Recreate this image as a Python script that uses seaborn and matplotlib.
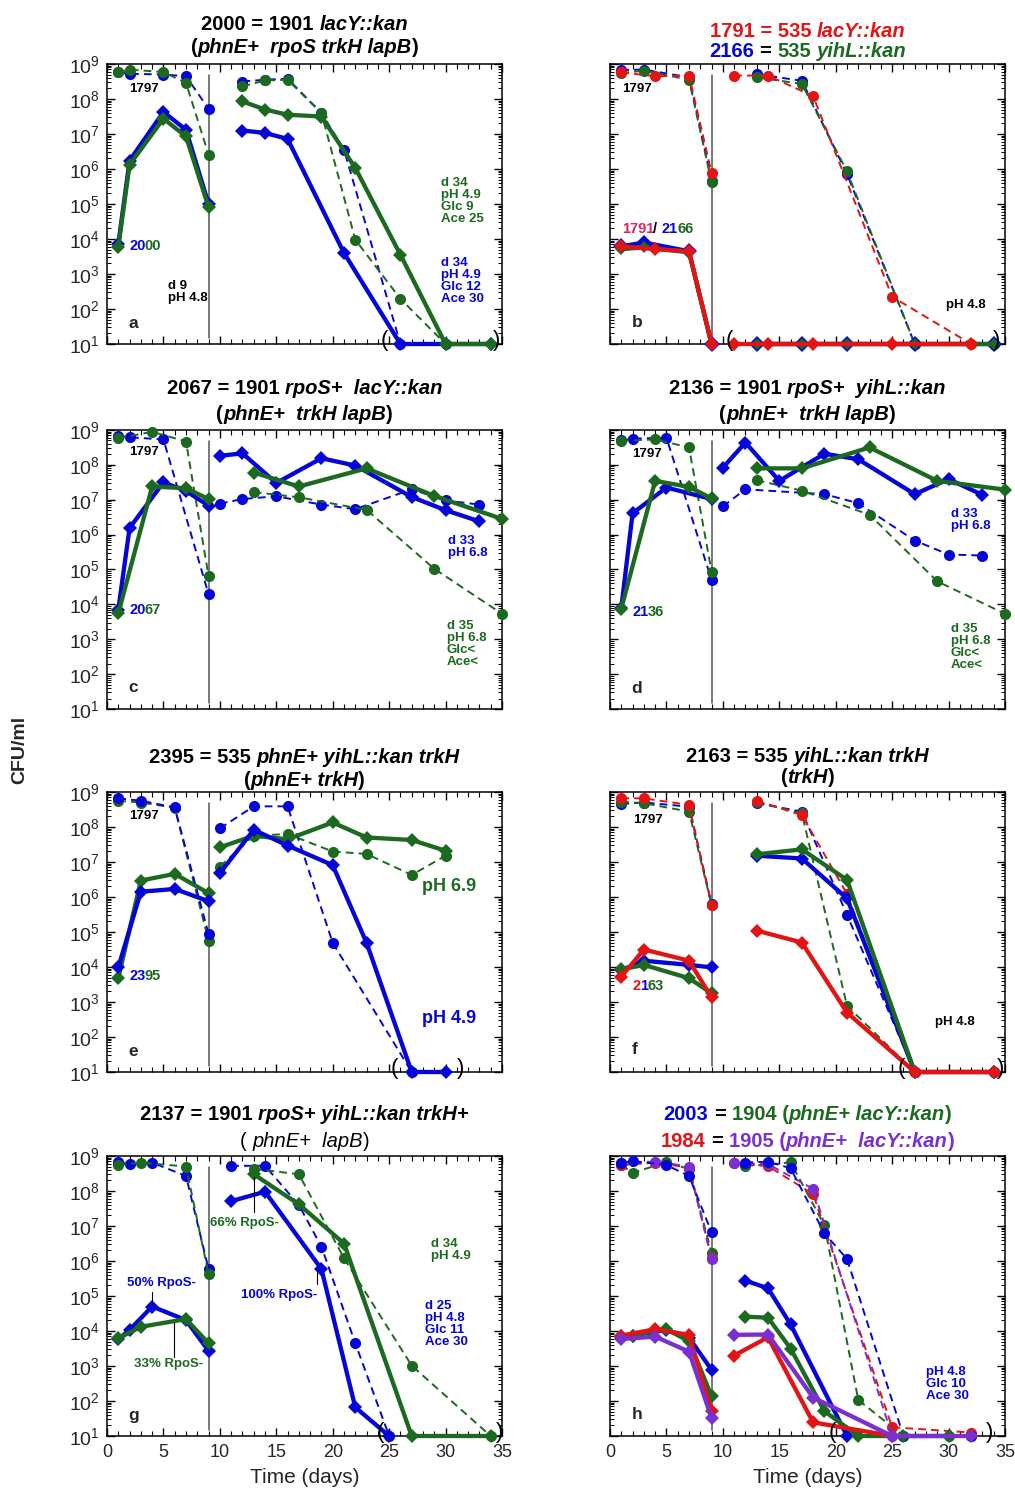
import numpy as np
import pandas as pd
import matplotlib
matplotlib.use("Agg")
import matplotlib.pyplot as plt
import seaborn as sns
from matplotlib.ticker import LogLocator, LogFormatterMathtext, MultipleLocator, NullFormatter
from matplotlib.transforms import IdentityTransform

# ---------------- data (log10 CFU/ml) ----------------
# panel a
a_d_blue_dash = [1, 2, 5, 7, 9, 12, 14, 16, 19, 21, 26]
a_v_blue_dash = [8.76, 8.72, 8.70, 8.65, 7.72, 8.50, 8.55, 8.58, 7.60, 6.55, 1.0]
a_d_green_dash = [1, 2, 5, 7, 9, 12, 14, 16, 19, 22, 26, 30]
a_v_green_dash = [8.76, 8.84, 8.77, 8.46, 6.41, 8.36, 8.53, 8.55, 7.60, 3.98, 2.29, 1.0]
a_d_blue_sol = [1, 2, 5, 7, 9, 12, 14, 16, 21, 26, 30, 34]
a_v_blue_sol = [3.85, 6.24, 7.63, 7.12, 5.00, 7.10, 7.03, 6.86, 3.60, 1.0, 1.0, 1.0]
a_d_green_sol = [1, 2, 5, 7, 9, 12, 14, 16, 19, 22, 26, 30, 34]
a_v_green_sol = [3.77, 6.12, 7.44, 6.93, 4.91, 7.93, 7.70, 7.55, 7.50, 6.03, 3.55, 1.0, 1.0]

# panel b
b_d_bg = [1, 3, 7, 9, 13, 17, 21, 27, 34]
b_v_blue_dash = [8.83, 8.84, 8.62, 5.67, 8.71, 8.52, 5.86, 1.0, 1.0]
b_v_green_dash = [8.74, 8.81, 8.55, 5.62, 8.62, 8.43, 5.93, 1.0, 1.0]
b_d_red = [1, 4, 7, 9, 11, 14, 18, 25, 32]
b_v_red_dash = [8.76, 8.65, 8.67, 5.89, 8.67, 8.67, 8.08, 2.35, 1.0]
b_v_blue_sol = [3.79, 3.90, 3.65, 1.0, 1.0, 1.0, 1.0, 1.0, 1.0]
b_v_green_sol = [3.71, 3.76, 3.62, 1.0, 1.0, 1.0, 1.0, 1.0, 1.0]
b_v_red_sol = [3.79, 3.71, 3.65, 1.0, 1.0, 1.0, 1.0, 1.0, 1.0]

# panel c
c_d_blue_dash = [1, 2, 5, 9, 10, 12, 15, 19, 22, 27, 30, 33]
c_v_blue_dash = [8.84, 8.79, 8.73, 4.29, 6.89, 7.02, 7.10, 6.86, 6.73, 7.30, 6.98, 6.86]
c_d_green_dash = [1, 4, 7, 9, 13, 17, 23, 29, 35]
c_v_green_dash = [8.76, 8.95, 8.67, 4.81, 7.22, 7.07, 6.71, 5.02, 3.73]
c_d_blue_sol = [1, 2, 5, 7, 9, 10, 12, 15, 19, 22, 27, 30, 33]
c_v_blue_sol = [3.84, 6.19, 7.50, 7.25, 6.83, 8.26, 8.33, 7.48, 8.19, 7.98, 7.08, 6.70, 6.38]
c_d_green_sol = [1, 4, 7, 9, 13, 17, 23, 29, 35]
c_v_green_sol = [3.74, 7.38, 7.33, 7.02, 7.78, 7.38, 7.90, 7.11, 6.45]

# panel d
d_d_blue_dash = [1, 2, 5, 9, 10, 12, 19, 22, 27, 30, 33]
d_v_blue_dash = [8.70, 8.75, 8.78, 4.70, 6.81, 7.30, 7.16, 6.90, 5.83, 5.43, 5.40]
d_d_green_dash = [1, 4, 7, 9, 13, 17, 23, 29, 35]
d_v_green_dash = [8.69, 8.73, 8.50, 4.94, 7.56, 7.26, 6.57, 4.66, 3.73]
d_d_blue_sol = [1, 2, 5, 9, 10, 12, 15, 19, 22, 27, 30, 33]
d_v_blue_sol = [3.90, 6.61, 7.35, 7.02, 7.92, 8.64, 7.54, 8.32, 8.16, 7.16, 7.59, 7.14]
d_d_green_sol = [1, 4, 7, 9, 13, 17, 23, 29, 35]
d_v_green_sol = [3.88, 7.54, 7.37, 7.04, 7.90, 7.90, 8.50, 7.54, 7.29]

# panel e
e_d_blue_dash = [1, 3, 6, 9, 10, 13, 16, 20, 27]
e_v_blue_dash = [8.82, 8.75, 8.56, 4.94, 7.96, 8.59, 8.59, 4.69, 1.0]
e_d_green_dash = [1, 3, 6, 9, 10, 13, 16, 20, 23, 27, 30]
e_v_green_dash = [8.75, 8.70, 8.55, 4.75, 6.87, 7.75, 7.80, 7.30, 7.23, 6.63, 7.18]
e_d_sol = [1, 3, 6, 9, 10, 13, 16, 20, 23, 27, 30]
e_v_blue_sol = [3.99, 6.15, 6.23, 5.88, 6.68, 7.92, 7.47, 6.91, 4.69, 1.0, 1.0]
e_v_green_sol = [3.68, 6.47, 6.66, 6.11, 7.42, 7.75, 7.65, 8.13, 7.70, 7.63, 7.32]

# panel f
f_d = [1, 3, 7, 9, 13, 17, 21, 27, 34]
f_v_red_dash = [8.82, 8.82, 8.63, 5.77, 8.75, 8.34, 6.09, 1.0, 1.0]
f_v_blue_dash = [8.66, 8.70, 8.58, 5.80, 8.68, 8.44, 5.49, 1.0, 1.0]
f_v_green_dash = [8.72, 8.68, 8.44, 5.77, 8.72, 8.39, 2.89, 1.0, 1.0]
f_v_blue_sol = [3.91, 4.18, 4.06, 3.99, 7.18, 7.10, 5.96, 1.0, 1.0]
f_v_green_sol = [3.93, 4.06, 3.68, 3.25, 7.22, 7.36, 6.49, 1.0, 1.0]
f_v_red_sol = [3.72, 4.50, 4.18, 3.13, 5.04, 4.70, 2.70, 1.0, 1.0]

# panel g
g_d_blue_dash = [1, 2, 4, 7, 9, 11, 14, 17, 19, 22, 25]
g_v_blue_dash = [8.82, 8.77, 8.81, 8.43, 5.77, 8.72, 8.72, 7.60, 6.41, 3.65, 1.0]
g_d_green_dash = [1, 3, 7, 9, 13, 17, 21, 27, 34]
g_v_green_dash = [8.74, 8.81, 8.70, 5.62, 8.63, 8.48, 6.08, 3.01, 1.0]
g_d_blue_sol = [1, 2, 4, 7, 9, 11, 14, 19, 22, 25]
g_v_blue_sol = [3.76, 4.03, 4.70, 4.31, 3.43, 7.71, 7.98, 5.77, 1.82, 1.0]
g_d_green_sol = [1, 3, 7, 9, 13, 17, 21, 27, 34]
g_v_green_sol = [3.79, 4.12, 4.34, 3.65, 8.48, 7.62, 6.50, 1.0, 1.0]

# panel h
h_d_blue_dash = [1, 2, 5, 7, 9, 12, 14, 16, 19, 21, 26, 32]
h_v_blue_dash = [8.79, 8.86, 8.74, 8.43, 6.82, 8.81, 8.84, 8.65, 6.79, 6.06, 1.0, 1.0]
h_d_green_dash = [1, 2, 5, 7, 9, 12, 14, 16, 19, 22, 26, 30]
h_v_green_dash = [8.74, 8.52, 8.82, 8.63, 6.24, 8.72, 8.75, 8.82, 7.02, 2.03, 1.0, 1.0]
h_d_rp = [1, 4, 7, 9, 11, 14, 18, 25, 32]
h_v_red_dash = [8.74, 8.81, 8.67, 6.10, 8.79, 8.71, 7.91, 1.25, 1.10]
h_v_purple_dash = [8.81, 8.84, 8.70, 6.05, 8.79, 8.77, 8.06, 1.0, 1.0]
h_d_blue_sol = [1, 2, 5, 7, 9, 12, 14, 16, 21]
h_v_blue_sol = [3.84, 3.87, 4.03, 3.81, 2.89, 5.44, 5.22, 4.19, 1.0]
h_d_green_sol = [1, 2, 5, 7, 9, 12, 14, 16, 19, 22, 26, 30]
h_v_green_sol = [3.87, 3.87, 4.05, 3.71, 2.14, 4.41, 4.38, 3.50, 1.71, 1.0, 1.0, 1.0]
h_d_red_sol = [1, 4, 7, 9, 11, 14, 18, 25]
h_v_red_sol = [3.87, 4.05, 3.89, 1.71, 3.30, 3.82, 1.39, 1.0]
h_v_purple_sol = [3.77, 3.84, 3.41, 1.52, 3.89, 3.90, 2.10, 1.0, 1.0]

x_ticks = [0, 5, 10, 15, 20, 25, 30, 35]

# ---------------- style ----------------
BLUE = "#0505d8"
GREEN = "#1c6a1f"
RED = "#e31414"
PURPLE = "#7a2fd0"
PINK = "#e0245e"
BLACK = "black"

sns.set_theme(style="ticks")
plt.rcParams['font.family'] = ['Liberation Sans', 'DejaVu Sans']
plt.rcParams['mathtext.fontset'] = 'custom'
plt.rcParams['mathtext.rm'] = 'Liberation Sans'
plt.rcParams['mathtext.it'] = 'Liberation Sans:italic'
plt.rcParams['mathtext.bf'] = 'Liberation Sans:bold'

W, H = 1015, 1489
fig = plt.figure(figsize=(W / 100, H / 100), dpi=100)


def px_axes(x0, y0, x1, y1):
    return fig.add_axes([x0 / W, 1 - y1 / H, (x1 - x0) / W, (y1 - y0) / H])


col_x = [(107, 502), (610, 1005)]
row_y = [(64, 344), (430, 709), (792, 1072), (1156, 1436)]
axes = {}
letters = ['a', 'b', 'c', 'd', 'e', 'f', 'g', 'h']
for i, L in enumerate(letters):
    r, c = divmod(i, 2)
    axes[L] = px_axes(col_x[c][0], row_y[r][0], col_x[c][1], row_y[r][1])


def series(ax, days, logs, color, dashed, ms=None, z=3):
    df = pd.DataFrame({'day': days, 'cfu': 10.0 ** np.asarray(logs, dtype=float)})
    df['seg'] = (df['day'] > 9.5).astype(int)
    if dashed:
        sns.lineplot(data=df, x='day', y='cfu', units='seg', estimator=None, sort=False,
                     ax=ax, color=color, linewidth=1.4, linestyle=(0, (4, 2.6)),
                     marker='o', markersize=ms or 8.0, markeredgecolor=color,
                     markeredgewidth=0, clip_on=False, zorder=z, legend=False)
    else:
        sns.lineplot(data=df, x='day', y='cfu', units='seg', estimator=None, sort=False,
                     ax=ax, color=color, linewidth=3.1, marker='D',
                     markersize=ms or 7.3, markeredgecolor=color, markeredgewidth=0,
                     clip_on=False, zorder=z + 2, legend=False)


# panel a
ax = axes['a']
series(ax, a_d_blue_dash, a_v_blue_dash, BLUE, True)
series(ax, a_d_green_dash, a_v_green_dash, GREEN, True)
series(ax, a_d_blue_sol, a_v_blue_sol, BLUE, False)
series(ax, a_d_green_sol, a_v_green_sol, GREEN, False)
# panel b
ax = axes['b']
series(ax, b_d_bg, b_v_blue_dash, BLUE, True)
series(ax, b_d_bg, b_v_green_dash, GREEN, True)
series(ax, b_d_red, b_v_red_dash, RED, True)
series(ax, b_d_bg, b_v_blue_sol, BLUE, False, ms=8.4)
series(ax, b_d_bg, b_v_green_sol, GREEN, False, ms=6.0)
series(ax, b_d_red, b_v_red_sol, RED, False)
# panel c
ax = axes['c']
series(ax, c_d_blue_dash, c_v_blue_dash, BLUE, True)
series(ax, c_d_green_dash, c_v_green_dash, GREEN, True)
series(ax, c_d_blue_sol, c_v_blue_sol, BLUE, False)
series(ax, c_d_green_sol, c_v_green_sol, GREEN, False)
# panel d
ax = axes['d']
series(ax, d_d_blue_dash, d_v_blue_dash, BLUE, True)
series(ax, d_d_green_dash, d_v_green_dash, GREEN, True)
series(ax, d_d_blue_sol, d_v_blue_sol, BLUE, False)
series(ax, d_d_green_sol, d_v_green_sol, GREEN, False)
# panel e
ax = axes['e']
series(ax, e_d_green_dash, e_v_green_dash, GREEN, True)
series(ax, e_d_blue_dash, e_v_blue_dash, BLUE, True)
series(ax, e_d_sol, e_v_green_sol, GREEN, False)
series(ax, e_d_sol, e_v_blue_sol, BLUE, False)
# panel f
ax = axes['f']
series(ax, f_d, f_v_blue_dash, BLUE, True)
series(ax, f_d, f_v_green_dash, GREEN, True)
series(ax, f_d, f_v_red_dash, RED, True)
series(ax, f_d, f_v_blue_sol, BLUE, False)
series(ax, f_d, f_v_green_sol, GREEN, False)
series(ax, f_d, f_v_red_sol, RED, False)
# panel g
ax = axes['g']
series(ax, g_d_blue_dash, g_v_blue_dash, BLUE, True)
series(ax, g_d_green_dash, g_v_green_dash, GREEN, True)
series(ax, g_d_blue_sol, g_v_blue_sol, BLUE, False)
series(ax, g_d_green_sol, g_v_green_sol, GREEN, False)
# panel h
ax = axes['h']
series(ax, h_d_green_dash, h_v_green_dash, GREEN, True)
series(ax, h_d_rp, h_v_red_dash, RED, True)
series(ax, h_d_rp, h_v_purple_dash, PURPLE, True)
series(ax, h_d_blue_dash, h_v_blue_dash, BLUE, True)
series(ax, h_d_blue_sol, h_v_blue_sol, BLUE, False)
series(ax, h_d_green_sol, h_v_green_sol, GREEN, False)
series(ax, h_d_red_sol, h_v_red_sol, RED, False)
series(ax, h_d_rp, h_v_purple_sol, PURPLE, False)

# ---------------- axes formatting ----------------
for i, L in enumerate(letters):
    ax = axes[L]
    r, c = divmod(i, 2)
    ax.set_yscale('log')
    ax.set_ylim(10, 1e9)
    ax.set_xlim(0, 35)
    ax.set_xlabel('')
    ax.set_ylabel('')
    ax.yaxis.set_major_locator(LogLocator(base=10, numticks=20))
    ax.yaxis.set_minor_locator(LogLocator(base=10, subs=np.arange(2, 10), numticks=100))
    ax.yaxis.set_major_formatter(LogFormatterMathtext())
    ax.yaxis.set_minor_formatter(NullFormatter())
    ax.set_xticks(x_ticks)
    ax.xaxis.set_minor_locator(MultipleLocator(1))
    ax.tick_params(which='both', direction='in', top=True, right=True, color='black')
    ax.tick_params(axis='y', which='major', length=6, width=1.0, labelsize=14, pad=5)
    ax.tick_params(axis='y', which='minor', length=3, width=0.7)
    ax.tick_params(axis='x', which='major', length=6, width=1.0, labelsize=13, pad=6)
    ax.tick_params(axis='x', which='minor', length=3.5, width=0.8)
    ax.tick_params(labelleft=(c == 0), labelbottom=(r == 3))
    for sp in ax.spines.values():
        sp.set_linewidth(1.1)
        sp.set_color('black')
    ax.axvline(9, ymin=0.02, ymax=0.96, color='#555555', lw=1.1, zorder=1)
    if r == 3:
        ax.set_xlabel('Time (days)', fontsize=15, labelpad=5)
    ax.set_facecolor('white')


# ---------------- text helpers ----------------
def measure(s, **kw):
    t = fig.text(0, 0, s, transform=IdentityTransform(), **kw)
    w = t.get_window_extent(fig.canvas.get_renderer()).width
    t.remove()
    return w


def advance(s, **kw):
    # width including side bearings and spaces
    return measure("H" + s + "H", **kw) - measure("HH", **kw)


def rich(x, y, segs, size, ha='center'):
    """segs: (text, color, weight, style); x,y display px (y = baseline)."""
    items = []
    total = 0.0
    for s, col, wgt, sty in segs:
        kw = dict(fontsize=size, fontweight=wgt, fontstyle=sty, color=col)
        lead = s[:len(s) - len(s.lstrip(' '))]
        core = s.strip(' ')
        if lead:
            total += advance(lead, **kw)
        if core:
            items.append((total, core, kw))
        total += advance(s.lstrip(' '), **kw)
    x0 = x - total / 2 if ha == 'center' else x
    for off, core, kw in items:
        fig.text(x0 + off, y, core, transform=IdentityTransform(), ha='left',
                 va='baseline', **kw)


def title(L, base1, base2, segs1, segs2, size=14.5):
    r, c = divmod(letters.index(L), 2)
    xc = (col_x[c][0] + col_x[c][1]) / 2
    rich(xc, H - base1, segs1, size)
    rich(xc, H - base2, segs2, size)


# advance widths (em) of the bold sans glyphs used in the strain labels
EM_ADV = {' ': 0.278, '/': 0.278}


def data_rich(ax, day, logv, segs, size):
    """Multicolour digit label: pieces placed on the font's fixed digit advance."""
    xd, yd = ax.transData.transform((day, 10 ** logv))
    px = size * 100 / 72
    yb = yd - 0.36 * px
    pen = 0.0
    for k, (s, col) in enumerate(segs):
        lead = len(s) - len(s.lstrip(' '))
        pen += lead * EM_ADV[' '] * px
        core = s.strip(' ')
        if core:
            fig.text(xd + pen - (1.0 if k else 0.0), yb, core, transform=IdentityTransform(),
                     ha='left', va='baseline', color=col, fontsize=size, fontweight='bold')
        for ch in s.lstrip(' '):
            pen += EM_ADV.get(ch, 0.556) * px


B, I, N = 'bold', 'italic', 'normal'
title('a', 30, 53,
      [("2000 = 1901 ", BLACK, B, N), ("lacY::kan", BLACK, B, I)],
      [("(", BLACK, B, N), ("phnE+  rpoS trkH lapB", BLACK, B, I), (")", BLACK, B, N)])
title('b', 37, 57,
      [("1791 = 535 ", RED, B, N), ("lacY::kan", RED, B, I)],
      [("2166", BLUE, B, N), (" = ", BLACK, B, N), ("535 ", GREEN, B, N), ("yihL::kan", GREEN, B, I)])
title('c', 394, 420,
      [("2067 = 1901 ", BLACK, B, N), ("rpoS+  lacY::kan", BLACK, B, I)],
      [("(", BLACK, B, N), ("phnE+  trkH lapB", BLACK, B, I), (")", BLACK, B, N)])
title('d', 394, 420,
      [("2136 = 1901 ", BLACK, B, N), ("rpoS+  yihL::kan", BLACK, B, I)],
      [("(", BLACK, B, N), ("phnE+  trkH lapB", BLACK, B, I), (")", BLACK, B, N)])
title('e', 763, 786,
      [("2395 = 535 ", BLACK, B, N), ("phnE+ yihL::kan trkH", BLACK, B, I)],
      [("(", BLACK, B, N), ("phnE+ trkH", BLACK, B, I), (")", BLACK, B, N)])
title('f', 762, 783,
      [("2163 = 535 ", BLACK, B, N), ("yihL::kan trkH", BLACK, B, I)],
      [("(", BLACK, B, N), ("trkH", BLACK, B, I), (")", BLACK, B, N)])
title('g', 1120, 1147,
      [("2137 = 1901 ", BLACK, B, N), ("rpoS+ yihL::kan trkH+", BLACK, B, I)],
      [("( ", BLACK, N, N), ("phnE+  lapB", BLACK, N, I), (")", BLACK, N, N)])
title('h', 1120, 1147,
      [("2003", BLUE, B, N), (" = ", BLACK, B, N), ("1904 (", GREEN, B, N),
       ("phnE+ lacY::kan", GREEN, B, I), (")", GREEN, B, N)],
      [("1984", RED, B, N), (" = ", BLACK, B, N), ("1905 (", PURPLE, B, N),
       ("phnE+  lacY::kan", PURPLE, B, I), (")", PURPLE, B, N)])

ANN = dict(fontsize=9.5, fontweight='bold', linespacing=1.0)


def note(ax, x, y, s, color=BLACK, va='top', **kw):
    opts = dict(ANN)
    opts.update(kw)
    ax.text(x, 10 ** y, s, color=color, ha='left', va=va, zorder=10, **opts)


def parens(ax, x0, x1):
    for x, s in ((x0, '('), (x1, ')')):
        ax.text(x, 10 ** 1.1, s, fontsize=16, ha='center', va='center', color=BLACK,
                zorder=10)


def letter(ax, x, y, s):
    ax.text(x, 10 ** y, s, fontsize=12.5, fontweight='bold', ha='left', va='center',
            zorder=10)


# panel a
ax = axes['a']
note(ax, 2.0, 8.29, "1797", va='center')
data_rich(ax, 2.0, 3.84, [("20", BLUE), ("00", GREEN)], 10.5)
note(ax, 29.6, 5.76, "d 34\npH 4.9\nGlc 9\nAce 25", GREEN)
note(ax, 29.6, 3.48, "d 34\npH 4.9\nGlc 12\nAce 30", BLUE)
note(ax, 5.4, 2.84, "d 9\npH 4.8")
letter(ax, 1.9, 1.6, 'a')
parens(ax, 24.6, 34.5)
# panel b
ax = axes['b']
note(ax, 1.1, 8.29, "1797", va='center')
data_rich(ax, 1.05, 4.33, [("1791", PINK), ("/ ", BLACK), ("21", BLUE), ("66", GREEN)], 10.5)
note(ax, 29.8, 2.11, "pH 4.8", va='center')
letter(ax, 1.9, 1.62, 'b')
parens(ax, 10.6, 34.3)
# panel c
ax = axes['c']
note(ax, 2.0, 8.38, "1797", va='center')
data_rich(ax, 2.0, 3.88, [("20", BLUE), ("67", GREEN)], 10.5)
note(ax, 30.2, 5.98, "d 33\npH 6.8", BLUE)
note(ax, 30.1, 3.55, "d 35\npH 6.8\nGlc<\nAce<", GREEN)
letter(ax, 1.9, 1.62, 'c')
# panel d
ax = axes['d']
note(ax, 2.0, 8.32, "1797", va='center')
data_rich(ax, 2.0, 3.83, [("21", BLUE), ("36", GREEN)], 10.5)
note(ax, 30.2, 6.76, "d 33\npH 6.8", BLUE)
note(ax, 30.2, 3.47, "d 35\npH 6.8\nGlc<\nAce<", GREEN)
letter(ax, 1.9, 1.6, 'd')
# panel e
ax = axes['e']
note(ax, 2.0, 8.3, "1797", va='center')
data_rich(ax, 2.0, 3.77, [("23", BLUE), ("95", GREEN)], 10.5)
note(ax, 27.9, 6.3, "pH 6.9", GREEN, va='center', fontsize=13)
note(ax, 27.9, 2.53, "pH 4.9", BLUE, va='center', fontsize=13)
letter(ax, 1.9, 1.6, 'e')
parens(ax, 25.5, 31.3)
# panel f
ax = axes['f']
note(ax, 2.07, 8.2, "1797", va='center')
data_rich(ax, 2.0, 3.49, [("2", RED), ("1", BLUE), ("63", GREEN)], 10.5)
note(ax, 28.8, 2.43, "pH 4.8", va='center')
letter(ax, 1.9, 1.63, 'f')
parens(ax, 25.8, 34.6)
# panel g
ax = axes['g']
note(ax, 1.75, 5.38, "50% RpoS-", BLUE, va='center')
note(ax, 2.4, 3.05, "33% RpoS-", GREEN, va='center')
note(ax, 9.1, 7.08, "66% RpoS-", GREEN, va='center')
note(ax, 11.85, 5.03, "100% RpoS-", BLUE, va='center')
for xp, y0, y1 in ((4.0, 4.75, 5.12), (5.97, 3.27, 4.27), (13.05, 7.39, 8.41), (18.58, 5.33, 5.70)):
    ax.plot([xp, xp], [10 ** y0, 10 ** y1], color='black', lw=0.8, zorder=9)
note(ax, 28.7, 6.67, "d 34\npH 4.9", GREEN)
note(ax, 28.2, 4.89, "d 25\npH 4.8\nGlc 11\nAce 30", BLUE)
letter(ax, 1.9, 1.58, 'g')
parens(ax, 24.2, 34.8)
# panel h
ax = axes['h']
note(ax, 28.0, 3.01, "pH 4.8\nGlc 10\nAce 30", BLUE)
letter(ax, 1.9, 1.62, 'h')
parens(ax, 19.7, 33.6)

fig.text(20 / W, 1 - 750 / H, "CFU/ml", rotation=90, fontsize=14, fontweight='bold',
         ha='center', va='center')

fig.savefig("out.png", dpi=100, facecolor='white')
